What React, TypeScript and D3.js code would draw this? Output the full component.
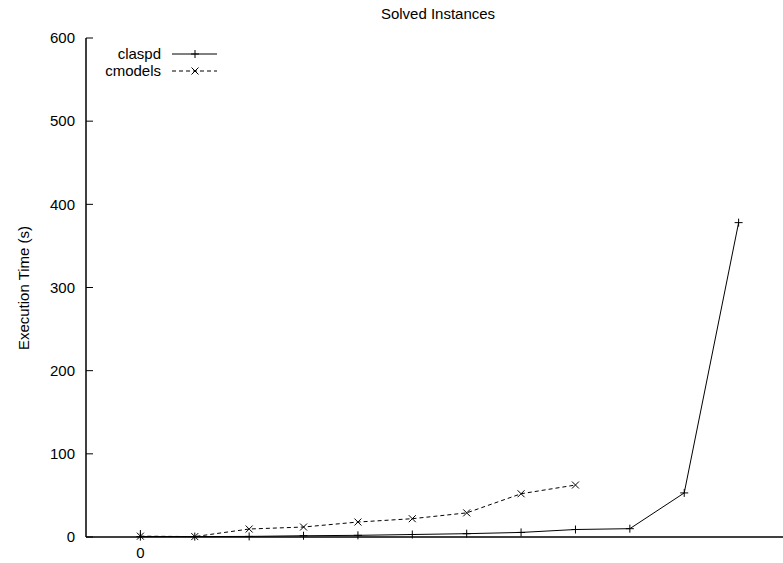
import React from "react";
import * as d3 from "d3";

const title = "Solved Instances";
const yLabel = "Execution Time (s)";
const yTicks = [0, 100, 200, 300, 400, 500, 600];
const xTickLabels = [0];
const seriesNames = ["claspd", "cmodels"];
const claspd = [0.5, 0.5, 0.7, 1.5, 2, 3, 4, 5.5, 9, 10, 53, 378];
const cmodels = [1, 0.5, 9.6, 12, 18, 22, 29, 52, 62.5];

const W = 783;
const H = 563;

export default function App() {
  const x = d3.scaleLinear().domain([-1, 12]).range([86, 793]);
  const y = d3.scaleLinear().domain([0, 600]).range([537, 38]);
  const font = "'Liberation Sans', Arial, Helvetica, sans-serif";
  const fs = 15;
  const line = d3
    .line<number>()
    .x((_, i) => x(i))
    .y((d) => y(d));

  const plus = (cx: number, cy: number, k: string) => (
    <path key={k} d={`M${cx - 4},${cy}H${cx + 4}M${cx},${cy - 4}V${cy + 4}`} stroke="#000" strokeWidth={1} fill="none" />
  );
  const cross = (cx: number, cy: number, k: string) => (
    <path key={k} d={`M${cx - 3.5},${cy - 3.5}L${cx + 3.5},${cy + 3.5}M${cx - 3.5},${cy + 3.5}L${cx + 3.5},${cy - 3.5}`} stroke="#000" strokeWidth={1} fill="none" />
  );

  return (
    <svg width={W} height={H} style={{ position: "absolute", left: 0, top: 0, background: "#fff" }} fontFamily={font}>
      <rect x={0} y={0} width={W} height={H} fill="#fff" />
      <text x={438} y={19} textAnchor="middle" fontSize={fs} fill="#000">{title}</text>
      <text transform={`translate(29,288) rotate(-90)`} textAnchor="middle" fontSize={fs} fill="#000">{yLabel}</text>

      {/* y ticks */}
      {yTicks.map((t) => (
        <g key={"yt" + t}>
          <line x1={x(-1)} x2={x(-1) + 7} y1={y(t)} y2={y(t)} stroke="#000" strokeWidth={1} />
          <text x={75} y={y(t)} dy="0.35em" textAnchor="end" fontSize={fs} fill="#000">{t}</text>
        </g>
      ))}
      {xTickLabels.map((t) => (
        <g key={"xt" + t}>
          <line x1={x(t)} x2={x(t)} y1={y(0)} y2={y(0) - 7} stroke="#000" strokeWidth={1} />
          <text x={x(t)} y={553} dy="0.35em" textAnchor="middle" fontSize={fs} fill="#000">{t}</text>
        </g>
      ))}

      {/* axes */}
      <line x1={x(-1)} x2={x(-1)} y1={y(600)} y2={y(0)} stroke="#000" strokeWidth={1.5} />
      <line x1={x(-1)} x2={x(12)} y1={y(0)} y2={y(0)} stroke="#000" strokeWidth={1.5} />

      {/* series */}
      <path d={line(claspd) || ""} fill="none" stroke="#000" strokeWidth={1} />
      {claspd.map((v, i) => plus(x(i), y(v), "p" + i))}
      <path d={line(cmodels) || ""} fill="none" stroke="#000" strokeWidth={1} strokeDasharray="4,3" />
      {cmodels.map((v, i) => cross(x(i), y(v), "c" + i))}

      {/* legend */}
      <text x={161} y={54} dy="0.35em" textAnchor="end" fontSize={fs} fill="#000">{seriesNames[0]}</text>
      <line x1={172} x2={217} y1={54} y2={54} stroke="#000" strokeWidth={1} />
      {plus(195, 54, "lp")}
      <text x={161} y={71} dy="0.35em" textAnchor="end" fontSize={fs} fill="#000">{seriesNames[1]}</text>
      <line x1={172} x2={217} y1={71} y2={71} stroke="#000" strokeWidth={1} strokeDasharray="4,3" />
      {cross(195, 71, "lc")}
    </svg>
  );
}
